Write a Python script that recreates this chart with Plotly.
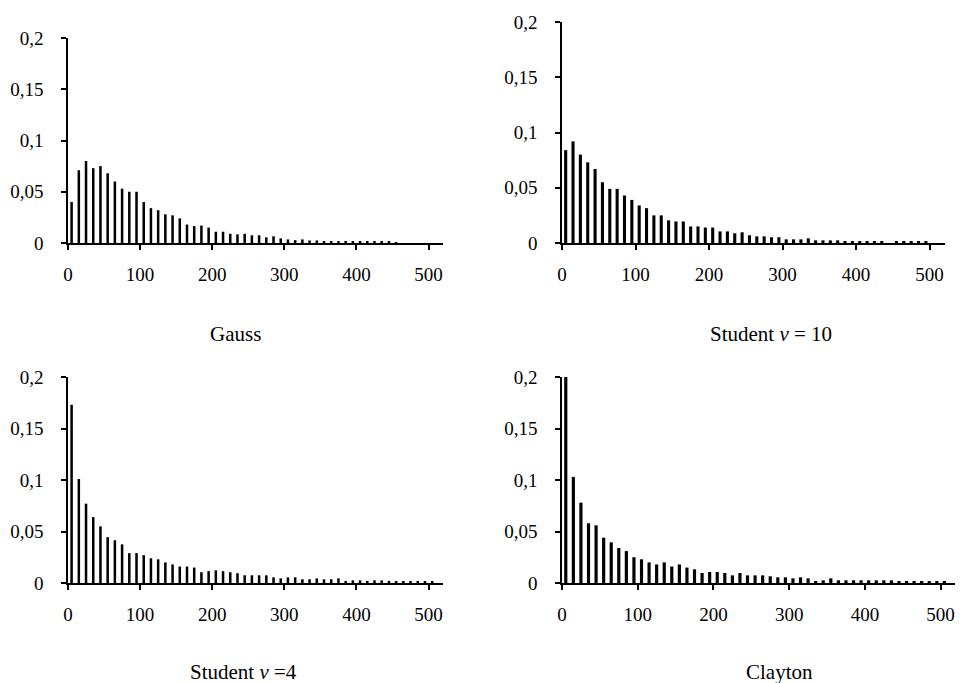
import plotly.graph_objects as go

# ---- data ----
bin_centers = list(range(5, 515, 10))  # 5, 15, ..., 505

gauss = [0.040, 0.071, 0.080, 0.073, 0.075, 0.068, 0.060, 0.053, 0.050, 0.050,
         0.040, 0.034, 0.032, 0.028, 0.027, 0.024, 0.018, 0.0165, 0.017, 0.015,
         0.011, 0.011, 0.009, 0.0085, 0.009, 0.0075, 0.0075, 0.0055, 0.0065, 0.0045,
         0.0035, 0.0028, 0.0035, 0.0025, 0.0025, 0.002, 0.002, 0.0015, 0.0015, 0.001,
         0.0015, 0.001, 0.001, 0.001, 0.001, 0.0007, 0, 0, 0, 0]

student10 = [0.084, 0.092, 0.080, 0.073, 0.067, 0.055, 0.049, 0.049, 0.043, 0.039,
             0.034, 0.0315, 0.025, 0.025, 0.0205, 0.0195, 0.0195, 0.015, 0.015, 0.014,
             0.014, 0.0105, 0.0105, 0.0088, 0.0097, 0.007, 0.006, 0.006, 0.0052, 0.0052,
             0.0033, 0.0033, 0.0033, 0.0042, 0.0024, 0.0024, 0.0024, 0.0024, 0.0015, 0.0015,
             0.0015, 0.001, 0.0015, 0.001, 0, 0.001, 0.001, 0.001, 0.001, 0.001]

student4 = [0.173, 0.101, 0.077, 0.064, 0.055, 0.0445, 0.0415, 0.0375, 0.029, 0.029,
            0.027, 0.024, 0.023, 0.020, 0.018, 0.016, 0.016, 0.015, 0.0105, 0.0115,
            0.0123, 0.0115, 0.0105, 0.0095, 0.0075, 0.0075, 0.0075, 0.0075, 0.0055, 0.0045,
            0.0055, 0.0055, 0.0036, 0.0036, 0.0045, 0.0036, 0.0036, 0.0045, 0.002, 0.0026,
            0.0026, 0.002, 0.0026, 0.0026, 0.002, 0.002, 0.0013, 0.0013, 0.002, 0.0013, 0.0013]

clayton = [0.200, 0.103, 0.078, 0.058, 0.056, 0.044, 0.0395, 0.034, 0.031, 0.025,
           0.023, 0.020, 0.018, 0.020, 0.016, 0.018, 0.015, 0.0133, 0.0097, 0.0107,
           0.0107, 0.0097, 0.0074, 0.0097, 0.0074, 0.0074, 0.0074, 0.0065, 0.0055, 0.0055,
           0.0045, 0.0055, 0.0045, 0.002, 0.0026, 0.0045, 0.0026, 0.0026, 0.0026, 0.0026,
           0.0026, 0.0026, 0.0026, 0.0026, 0.0016, 0.001, 0.0016, 0.001, 0.0016, 0.001, 0.0016]

titles = ["Gauss", "Student <i>v</i> = 10", "Student <i>v</i> =4", "Clayton"]
x_tickvals = [0, 100, 200, 300, 400, 500]
x_ticktext = ["0", "100", "200", "300", "400", "500"]
y_tickvals = [0, 0.05, 0.1, 0.15, 0.2]
y_ticktext = ["0", "0,05", "0,1", "0,15", "0,2"]

W, H = 961, 683
FONT = "Liberation Serif, Times New Roman, serif"

# panel geometry in pixels: (x0, x1, ytop, ybottom, xmax, barwidth)
panels = [
    (68, 443, 38, 243, 520, 3.5),
    (562, 945, 22, 243, 521, 4.2),
    (68, 443, 377, 583, 520, 3.5),
    (562, 955, 377, 583, 519, 4.2),
]
series = [gauss, student10, student4, clayton]
title_pos = [(235, 334), (771, 334), (243, 672), (779, 672)]

fig = go.Figure()
layout = dict(
    width=W, height=H,
    autosize=False,
    margin=dict(l=0, r=0, t=0, b=0, pad=0),
    paper_bgcolor="white", plot_bgcolor="white",
    showlegend=False,
    font=dict(family=FONT, size=19, color="black"),
    annotations=[],
)

for i, ((x0, x1, yt, yb, xmax, bw), vals) in enumerate(zip(panels, series)):
    n = i + 1
    xa = "x" if n == 1 else f"x{n}"
    ya = "y" if n == 1 else f"y{n}"
    fig.add_trace(go.Bar(
        x=bin_centers[:len(vals)], y=vals,
        width=bw, marker=dict(color="black", line=dict(width=0)),
        xaxis=xa, yaxis=ya, hoverinfo="skip",
    ))
    common = dict(showline=True, linecolor="black", linewidth=1.5,
                  ticks="outside", ticklen=5, tickwidth=1.5, tickcolor="black",
                  showgrid=False, zeroline=False, automargin=False,
                  tickfont=dict(family=FONT, size=19, color="black"))
    layout[f"xaxis{'' if n == 1 else n}"] = dict(
        domain=[x0 / W, x1 / W], range=[0, xmax], anchor=ya,
        tickvals=x_tickvals, ticktext=x_ticktext, ticklabelstandoff=8, **common)
    layout[f"yaxis{'' if n == 1 else n}"] = dict(
        domain=[(H - yb) / H, (H - yt) / H], range=[0, 0.2], anchor=xa,
        tickvals=y_tickvals, ticktext=y_ticktext, ticklabelstandoff=14, **common)
    tx, ty = title_pos[i]
    layout["annotations"].append(dict(
        text=titles[i], xref="paper", yref="paper", x=tx / W, y=1 - ty / H,
        xanchor="center", yanchor="middle", showarrow=False,
        font=dict(family=FONT, size=21, color="black")))

fig.update_layout(**layout)
fig.write_html("out.html")
